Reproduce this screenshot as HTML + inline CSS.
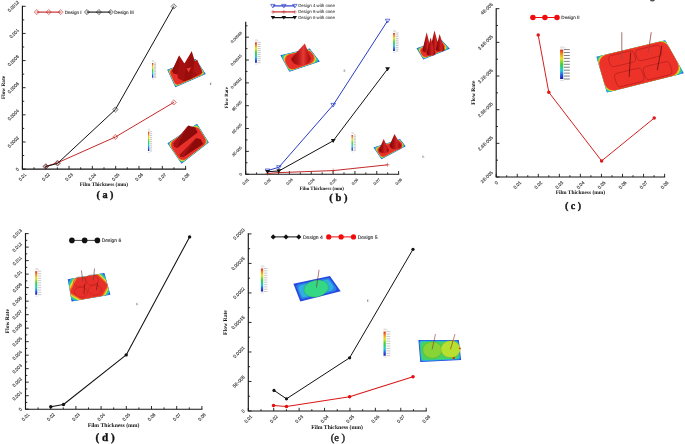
<!DOCTYPE html><html><head><meta charset="utf-8"><style>html,body{margin:0;padding:0;background:#fff;overflow:hidden;width:685px;height:444px;}svg{display:block;filter:blur(0.35px)}text{text-rendering:geometricPrecision}</style></head><body>
<svg width="685" height="444" viewBox="0 0 685 444">
<defs>
<linearGradient id="cb" x1="0" y1="0" x2="0" y2="1">
<stop offset="0" stop-color="#d42a1e"/><stop offset="0.14" stop-color="#f08a1e"/><stop offset="0.3" stop-color="#e8e020"/>
<stop offset="0.5" stop-color="#3ccf3c"/><stop offset="0.72" stop-color="#22c8d8"/><stop offset="0.86" stop-color="#2a5ae8"/><stop offset="1" stop-color="#1a1aa8"/>
</linearGradient>
<linearGradient id="cone" x1="0" y1="0" x2="1" y2="0">
<stop offset="0" stop-color="#a01010"/><stop offset="0.45" stop-color="#e02828"/><stop offset="0.7" stop-color="#c81818"/><stop offset="1" stop-color="#7a0a0a"/>
</linearGradient>
</defs>
<rect width="685" height="444" fill="#fff"/>
<path d="M22.4 6.3 V169.1 H185.6" stroke="#151515" stroke-width="1.15" fill="none" stroke-linecap="square"/>
<path d="M22.4 169.1 v-3.2 M45.71 169.1 v-3.2 M69.03 169.1 v-3.2 M92.34 169.1 v-3.2 M115.66 169.1 v-3.2 M138.97 169.1 v-3.2 M162.29 169.1 v-3.2 M185.6 169.1 v-3.2 M34.06 169.1 v-1.8 M57.37 169.1 v-1.8 M80.69 169.1 v-1.8 M104 169.1 v-1.8 M127.31 169.1 v-1.8 M150.63 169.1 v-1.8 M173.94 169.1 v-1.8 M22.4 169.1 h3.2 M22.4 141.97 h3.2 M22.4 114.83 h3.2 M22.4 87.7 h3.2 M22.4 60.57 h3.2 M22.4 33.43 h3.2 M22.4 6.3 h3.2 M22.4 155.53 h1.8 M22.4 128.4 h1.8 M22.4 101.27 h1.8 M22.4 74.13 h1.8 M22.4 47 h1.8 M22.4 19.87 h1.8" stroke="#151515" stroke-width="0.9" fill="none"/>
<text x="22.4" y="176.9" dy="0.36em" transform="rotate(-45 22.4 176.9)" text-anchor="middle" font-family='"Liberation Sans", sans-serif' font-size="4.5" fill="#2a2a2a" stroke="#2a2a2a" stroke-width="0.1">0.01</text>
<text x="45.71" y="176.9" dy="0.36em" transform="rotate(-45 45.71 176.9)" text-anchor="middle" font-family='"Liberation Sans", sans-serif' font-size="4.5" fill="#2a2a2a" stroke="#2a2a2a" stroke-width="0.1">0.02</text>
<text x="69.03" y="176.9" dy="0.36em" transform="rotate(-45 69.03 176.9)" text-anchor="middle" font-family='"Liberation Sans", sans-serif' font-size="4.5" fill="#2a2a2a" stroke="#2a2a2a" stroke-width="0.1">0.03</text>
<text x="92.34" y="176.9" dy="0.36em" transform="rotate(-45 92.34 176.9)" text-anchor="middle" font-family='"Liberation Sans", sans-serif' font-size="4.5" fill="#2a2a2a" stroke="#2a2a2a" stroke-width="0.1">0.04</text>
<text x="115.66" y="176.9" dy="0.36em" transform="rotate(-45 115.66 176.9)" text-anchor="middle" font-family='"Liberation Sans", sans-serif' font-size="4.5" fill="#2a2a2a" stroke="#2a2a2a" stroke-width="0.1">0.05</text>
<text x="138.97" y="176.9" dy="0.36em" transform="rotate(-45 138.97 176.9)" text-anchor="middle" font-family='"Liberation Sans", sans-serif' font-size="4.5" fill="#2a2a2a" stroke="#2a2a2a" stroke-width="0.1">0.06</text>
<text x="162.29" y="176.9" dy="0.36em" transform="rotate(-45 162.29 176.9)" text-anchor="middle" font-family='"Liberation Sans", sans-serif' font-size="4.5" fill="#2a2a2a" stroke="#2a2a2a" stroke-width="0.1">0.07</text>
<text x="185.6" y="176.9" dy="0.36em" transform="rotate(-45 185.6 176.9)" text-anchor="middle" font-family='"Liberation Sans", sans-serif' font-size="4.5" fill="#2a2a2a" stroke="#2a2a2a" stroke-width="0.1">0.08</text>
<text x="17.22" y="169.1" dy="0.36em" transform="rotate(-45 17.22 169.1)" text-anchor="middle" font-family='"Liberation Sans", sans-serif' font-size="4.5" fill="#2a2a2a" stroke="#2a2a2a" stroke-width="0.1">0</text>
<text x="13.23" y="141.97" dy="0.36em" transform="rotate(-45 13.23 141.97)" text-anchor="middle" font-family='"Liberation Sans", sans-serif' font-size="4.5" fill="#2a2a2a" stroke="#2a2a2a" stroke-width="0.1">0.0002</text>
<text x="13.23" y="114.83" dy="0.36em" transform="rotate(-45 13.23 114.83)" text-anchor="middle" font-family='"Liberation Sans", sans-serif' font-size="4.5" fill="#2a2a2a" stroke="#2a2a2a" stroke-width="0.1">0.0004</text>
<text x="13.23" y="87.7" dy="0.36em" transform="rotate(-45 13.23 87.7)" text-anchor="middle" font-family='"Liberation Sans", sans-serif' font-size="4.5" fill="#2a2a2a" stroke="#2a2a2a" stroke-width="0.1">0.0006</text>
<text x="13.23" y="60.57" dy="0.36em" transform="rotate(-45 13.23 60.57)" text-anchor="middle" font-family='"Liberation Sans", sans-serif' font-size="4.5" fill="#2a2a2a" stroke="#2a2a2a" stroke-width="0.1">0.0008</text>
<text x="14.12" y="33.43" dy="0.36em" transform="rotate(-45 14.12 33.43)" text-anchor="middle" font-family='"Liberation Sans", sans-serif' font-size="4.5" fill="#2a2a2a" stroke="#2a2a2a" stroke-width="0.1">0.001</text>
<text x="13.23" y="6.3" dy="0.36em" transform="rotate(-45 13.23 6.3)" text-anchor="middle" font-family='"Liberation Sans", sans-serif' font-size="4.5" fill="#2a2a2a" stroke="#2a2a2a" stroke-width="0.1">0.0012</text>
<path d="M45.8 166.3 L57.5 162.8 L115.4 137 L173.8 102.4" stroke="#c42a2a" stroke-width="1.0" fill="none" stroke-linejoin="round"/>
<path d="M45.8 166.6 L57.5 163.4 L115.4 109.5 L173.8 6.4" stroke="#111" stroke-width="1.0" fill="none" stroke-linejoin="round"/>
<path d="M43.2 166.3 L45.8 163.7 L48.4 166.3 L45.8 168.9 Z" fill="none" stroke="#c42a2a" stroke-width="0.7" stroke-opacity="0.8"/>
<circle cx="45.8" cy="166.3" r="1.3" fill="none" stroke="#c42a2a" stroke-width="0.35" stroke-opacity="0.5"/>
<path d="M54.9 162.8 L57.5 160.2 L60.1 162.8 L57.5 165.4 Z" fill="none" stroke="#c42a2a" stroke-width="0.7" stroke-opacity="0.8"/>
<circle cx="57.5" cy="162.8" r="1.3" fill="none" stroke="#c42a2a" stroke-width="0.35" stroke-opacity="0.5"/>
<path d="M112.8 137 L115.4 134.4 L118 137 L115.4 139.6 Z" fill="none" stroke="#c42a2a" stroke-width="0.7" stroke-opacity="0.8"/>
<circle cx="115.4" cy="137" r="1.3" fill="none" stroke="#c42a2a" stroke-width="0.35" stroke-opacity="0.5"/>
<path d="M171.2 102.4 L173.8 99.8 L176.4 102.4 L173.8 105 Z" fill="none" stroke="#c42a2a" stroke-width="0.7" stroke-opacity="0.8"/>
<circle cx="173.8" cy="102.4" r="1.3" fill="none" stroke="#c42a2a" stroke-width="0.35" stroke-opacity="0.5"/>
<path d="M43.1 166.6 L45.8 163.9 L48.5 166.6 L45.8 169.3 Z" fill="none" stroke="#222" stroke-width="0.7" stroke-opacity="0.8"/>
<circle cx="45.8" cy="166.6" r="1.35" fill="none" stroke="#222" stroke-width="0.35" stroke-opacity="0.5"/>
<path d="M54.8 163.4 L57.5 160.7 L60.2 163.4 L57.5 166.1 Z" fill="none" stroke="#222" stroke-width="0.7" stroke-opacity="0.8"/>
<circle cx="57.5" cy="163.4" r="1.35" fill="none" stroke="#222" stroke-width="0.35" stroke-opacity="0.5"/>
<path d="M112.7 109.5 L115.4 106.8 L118.1 109.5 L115.4 112.2 Z" fill="none" stroke="#222" stroke-width="0.7" stroke-opacity="0.8"/>
<circle cx="115.4" cy="109.5" r="1.35" fill="none" stroke="#222" stroke-width="0.35" stroke-opacity="0.5"/>
<path d="M171.1 6.4 L173.8 3.7 L176.5 6.4 L173.8 9.1 Z" fill="none" stroke="#222" stroke-width="0.7" stroke-opacity="0.8"/>
<circle cx="173.8" cy="6.4" r="1.35" fill="none" stroke="#222" stroke-width="0.35" stroke-opacity="0.5"/>
<path d="M36.8 12.1 H60.6" stroke="#c42a2a" stroke-width="1.15"/>
<path d="M34.2 12.1 L36.8 9.5 L39.4 12.1 L36.8 14.7 Z" fill="none" stroke="#c42a2a" stroke-width="0.7" stroke-opacity="0.8"/>
<circle cx="36.8" cy="12.1" r="1.3" fill="none" stroke="#c42a2a" stroke-width="0.35" stroke-opacity="0.5"/>
<path d="M46.1 12.1 L48.7 9.5 L51.3 12.1 L48.7 14.7 Z" fill="none" stroke="#c42a2a" stroke-width="0.7" stroke-opacity="0.8"/>
<circle cx="48.7" cy="12.1" r="1.3" fill="none" stroke="#c42a2a" stroke-width="0.35" stroke-opacity="0.5"/>
<path d="M58 12.1 L60.6 9.5 L63.2 12.1 L60.6 14.7 Z" fill="none" stroke="#c42a2a" stroke-width="0.7" stroke-opacity="0.8"/>
<circle cx="60.6" cy="12.1" r="1.3" fill="none" stroke="#c42a2a" stroke-width="0.35" stroke-opacity="0.5"/>
<text x="64.7" y="13.77" font-family='"Liberation Sans", sans-serif' font-size="4.63" fill="#333" stroke="#333" stroke-width="0.12">Design I</text>
<path d="M87 12.1 H110.8" stroke="#111" stroke-width="1.1"/>
<path d="M84.4 12.1 L87 9.5 L89.6 12.1 L87 14.7 Z" fill="none" stroke="#111" stroke-width="0.7" stroke-opacity="0.8"/>
<circle cx="87" cy="12.1" r="1.3" fill="none" stroke="#111" stroke-width="0.35" stroke-opacity="0.5"/>
<path d="M96.3 12.1 L98.9 9.5 L101.5 12.1 L98.9 14.7 Z" fill="none" stroke="#111" stroke-width="0.7" stroke-opacity="0.8"/>
<circle cx="98.9" cy="12.1" r="1.3" fill="none" stroke="#111" stroke-width="0.35" stroke-opacity="0.5"/>
<path d="M108.2 12.1 L110.8 9.5 L113.4 12.1 L110.8 14.7 Z" fill="none" stroke="#111" stroke-width="0.7" stroke-opacity="0.8"/>
<circle cx="110.8" cy="12.1" r="1.3" fill="none" stroke="#111" stroke-width="0.35" stroke-opacity="0.5"/>
<text x="114.3" y="13.76" font-family='"Liberation Sans", sans-serif' font-size="4.6" fill="#333" stroke="#333" stroke-width="0.12">Design III</text>
<text x="5.1" y="87.5" transform="rotate(-90 5.1 87.5)" text-anchor="middle" font-family='"Liberation Serif", serif' font-weight="bold" font-size="5.32" fill="#111">Flow Rate</text>
<text x="103.9" y="185.9" text-anchor="middle" font-family='"Liberation Serif", serif' font-weight="bold" font-size="5.3" fill="#111">Film Thickness (mm)</text>
<text x="105" y="197.7" text-anchor="middle" font-family='"Liberation Serif", serif' font-weight="bold" font-size="10.2" fill="#111" stroke="#111" stroke-width="0.35" xml:space="preserve">( a )</text>
<path d="M245.7 22.2 V174.2 H398.6" stroke="#151515" stroke-width="1.15" fill="none" stroke-linecap="square"/>
<path d="M245.7 174.2 v-3.2 M267.54 174.2 v-3.2 M289.39 174.2 v-3.2 M311.23 174.2 v-3.2 M333.07 174.2 v-3.2 M354.91 174.2 v-3.2 M376.76 174.2 v-3.2 M398.6 174.2 v-3.2 M256.62 174.2 v-1.8 M278.46 174.2 v-1.8 M300.31 174.2 v-1.8 M322.15 174.2 v-1.8 M343.99 174.2 v-1.8 M365.84 174.2 v-1.8 M387.68 174.2 v-1.8 M245.7 174.2 h3.2 M245.7 151.37 h3.2 M245.7 128.53 h3.2 M245.7 105.7 h3.2 M245.7 82.87 h3.2 M245.7 60.03 h3.2 M245.7 37.2 h3.2 M245.7 162.78 h1.8 M245.7 139.95 h1.8 M245.7 117.12 h1.8 M245.7 94.28 h1.8 M245.7 71.45 h1.8 M245.7 48.62 h1.8 M245.7 25.78 h1.8" stroke="#151515" stroke-width="0.9" fill="none"/>
<text x="245.7" y="181.62" dy="0.36em" transform="rotate(-45 245.7 181.62)" text-anchor="middle" font-family='"Liberation Sans", sans-serif' font-size="3.95" fill="#2a2a2a" stroke="#2a2a2a" stroke-width="0.1">0.01</text>
<text x="267.54" y="181.62" dy="0.36em" transform="rotate(-45 267.54 181.62)" text-anchor="middle" font-family='"Liberation Sans", sans-serif' font-size="3.95" fill="#2a2a2a" stroke="#2a2a2a" stroke-width="0.1">0.02</text>
<text x="289.39" y="181.62" dy="0.36em" transform="rotate(-45 289.39 181.62)" text-anchor="middle" font-family='"Liberation Sans", sans-serif' font-size="3.95" fill="#2a2a2a" stroke="#2a2a2a" stroke-width="0.1">0.03</text>
<text x="311.23" y="181.62" dy="0.36em" transform="rotate(-45 311.23 181.62)" text-anchor="middle" font-family='"Liberation Sans", sans-serif' font-size="3.95" fill="#2a2a2a" stroke="#2a2a2a" stroke-width="0.1">0.04</text>
<text x="333.07" y="181.62" dy="0.36em" transform="rotate(-45 333.07 181.62)" text-anchor="middle" font-family='"Liberation Sans", sans-serif' font-size="3.95" fill="#2a2a2a" stroke="#2a2a2a" stroke-width="0.1">0.05</text>
<text x="354.91" y="181.62" dy="0.36em" transform="rotate(-45 354.91 181.62)" text-anchor="middle" font-family='"Liberation Sans", sans-serif' font-size="3.95" fill="#2a2a2a" stroke="#2a2a2a" stroke-width="0.1">0.06</text>
<text x="376.76" y="181.62" dy="0.36em" transform="rotate(-45 376.76 181.62)" text-anchor="middle" font-family='"Liberation Sans", sans-serif' font-size="3.95" fill="#2a2a2a" stroke="#2a2a2a" stroke-width="0.1">0.07</text>
<text x="398.6" y="181.62" dy="0.36em" transform="rotate(-45 398.6 181.62)" text-anchor="middle" font-family='"Liberation Sans", sans-serif' font-size="3.95" fill="#2a2a2a" stroke="#2a2a2a" stroke-width="0.1">0.08</text>
<text x="240.62" y="174.2" dy="0.36em" transform="rotate(-45 240.62 174.2)" text-anchor="middle" font-family='"Liberation Sans", sans-serif' font-size="3.95" fill="#2a2a2a" stroke="#2a2a2a" stroke-width="0.1">0</text>
<text x="236.9" y="151.37" dy="0.36em" transform="rotate(-45 236.9 151.37)" text-anchor="middle" font-family='"Liberation Sans", sans-serif' font-size="3.95" fill="#2a2a2a" stroke="#2a2a2a" stroke-width="0.1">3E-005</text>
<text x="236.9" y="128.53" dy="0.36em" transform="rotate(-45 236.9 128.53)" text-anchor="middle" font-family='"Liberation Sans", sans-serif' font-size="3.95" fill="#2a2a2a" stroke="#2a2a2a" stroke-width="0.1">6E-005</text>
<text x="236.9" y="105.7" dy="0.36em" transform="rotate(-45 236.9 105.7)" text-anchor="middle" font-family='"Liberation Sans", sans-serif' font-size="3.95" fill="#2a2a2a" stroke="#2a2a2a" stroke-width="0.1">9E-005</text>
<text x="236.35" y="82.87" dy="0.36em" transform="rotate(-45 236.35 82.87)" text-anchor="middle" font-family='"Liberation Sans", sans-serif' font-size="3.95" fill="#2a2a2a" stroke="#2a2a2a" stroke-width="0.1">0.00012</text>
<text x="236.35" y="60.03" dy="0.36em" transform="rotate(-45 236.35 60.03)" text-anchor="middle" font-family='"Liberation Sans", sans-serif' font-size="3.95" fill="#2a2a2a" stroke="#2a2a2a" stroke-width="0.1">0.00015</text>
<text x="236.35" y="37.2" dy="0.36em" transform="rotate(-45 236.35 37.2)" text-anchor="middle" font-family='"Liberation Sans", sans-serif' font-size="3.95" fill="#2a2a2a" stroke="#2a2a2a" stroke-width="0.1">0.00018</text>
<path d="M267.5 173.5 L278.8 172.6 L333.2 170.6 L387.6 164.8" stroke="#c42a2a" stroke-width="1.0" fill="none" stroke-linejoin="round"/>
<path d="M267.5 170.6 L278.8 167.3 L333.2 105 L387.6 20.8" stroke="#2a3cc8" stroke-width="1.0" fill="none" stroke-linejoin="round"/>
<path d="M267.5 171.7 L278.8 171 L333.2 140.8 L387.6 69" stroke="#111" stroke-width="1.0" fill="none" stroke-linejoin="round"/>
<path d="M267.5 171.5 V175.5 M265.5 173.5 H269.5" stroke="#c42a2a" stroke-width="0.48999999999999994"/>
<path d="M278.8 170.6 V174.6 M276.8 172.6 H280.8" stroke="#c42a2a" stroke-width="0.48999999999999994"/>
<path d="M333.2 168.6 V172.6 M331.2 170.6 H335.2" stroke="#c42a2a" stroke-width="0.48999999999999994"/>
<path d="M387.6 162.8 V166.8 M385.6 164.8 H389.6" stroke="#c42a2a" stroke-width="0.48999999999999994"/>
<path d="M265.2 168.99 H269.8 L267.5 172.67 Z" fill="none" stroke="#2a3cc8" stroke-width="0.7"/>
<path d="M276.5 165.69 H281.1 L278.8 169.37 Z" fill="none" stroke="#2a3cc8" stroke-width="0.7"/>
<path d="M330.9 103.39 H335.5 L333.2 107.07 Z" fill="none" stroke="#2a3cc8" stroke-width="0.7"/>
<path d="M385.3 19.19 H389.9 L387.6 22.87 Z" fill="none" stroke="#2a3cc8" stroke-width="0.7"/>
<path d="M265.1 170.02 H269.9 L267.5 173.86 Z" fill="#111"/>
<path d="M276.4 169.32 H281.2 L278.8 173.16 Z" fill="#111"/>
<path d="M330.8 139.12 H335.6 L333.2 142.96 Z" fill="#111"/>
<path d="M385.2 67.32 H390 L387.6 71.16 Z" fill="#111"/>
<path d="M272.9 5.9 H294.8" stroke="#2a3cc8" stroke-width="1.2"/>
<path d="M270.7 4.36 H275.1 L272.9 7.88 Z" fill="none" stroke="#2a3cc8" stroke-width="0.7"/>
<path d="M281.65 4.36 H286.05 L283.85 7.88 Z" fill="none" stroke="#2a3cc8" stroke-width="0.7"/>
<path d="M292.6 4.36 H297 L294.8 7.88 Z" fill="none" stroke="#2a3cc8" stroke-width="0.7"/>
<text x="298.2" y="7.47" font-family='"Liberation Sans", sans-serif' font-size="4.35" fill="#555" stroke="#555" stroke-width="0.12">Design 4 with cone</text>
<path d="M272.9 11.9 H294.8" stroke="#c42a2a" stroke-width="1.2"/>
<path d="M272.9 9.9 V13.9 M270.9 11.9 H274.9" stroke="#c42a2a" stroke-width="0.48999999999999994"/>
<path d="M283.85 9.9 V13.9 M281.85 11.9 H285.85" stroke="#c42a2a" stroke-width="0.48999999999999994"/>
<path d="M294.8 9.9 V13.9 M292.8 11.9 H296.8" stroke="#c42a2a" stroke-width="0.48999999999999994"/>
<text x="298.2" y="13.47" font-family='"Liberation Sans", sans-serif' font-size="4.35" fill="#555" stroke="#555" stroke-width="0.12">Design 5 with cone</text>
<path d="M272.9 17.6 H294.8" stroke="#111" stroke-width="1.2"/>
<path d="M270.7 16.06 H275.1 L272.9 19.58 Z" fill="#111"/>
<path d="M281.65 16.06 H286.05 L283.85 19.58 Z" fill="#111"/>
<path d="M292.6 16.06 H297 L294.8 19.58 Z" fill="#111"/>
<text x="298.2" y="19.17" font-family='"Liberation Sans", sans-serif' font-size="4.35" fill="#555" stroke="#555" stroke-width="0.12">Design 6 with cone</text>
<text x="228.1" y="97.7" transform="rotate(-90 228.1 97.7)" text-anchor="middle" font-family='"Liberation Serif", serif' font-weight="bold" font-size="4.86" fill="#111">Flow Rate</text>
<text x="321.7" y="189.6" text-anchor="middle" font-family='"Liberation Serif", serif' font-weight="bold" font-size="4.9" fill="#111">Film Thickness (mm)</text>
<text x="338.4" y="201" text-anchor="middle" font-family='"Liberation Serif", serif' font-weight="bold" font-size="10.5" fill="#111" stroke="#111" stroke-width="0.35" xml:space="preserve">( b )</text>
<path d="M496.2 8.7 V177 H664.6" stroke="#151515" stroke-width="1.15" fill="none" stroke-linecap="square"/>
<path d="M496.2 177 v-3.2 M517.25 177 v-3.2 M538.3 177 v-3.2 M559.35 177 v-3.2 M580.4 177 v-3.2 M601.45 177 v-3.2 M622.5 177 v-3.2 M643.55 177 v-3.2 M664.6 177 v-3.2 M506.72 177 v-1.8 M527.77 177 v-1.8 M548.83 177 v-1.8 M569.88 177 v-1.8 M590.92 177 v-1.8 M611.98 177 v-1.8 M633.03 177 v-1.8 M654.08 177 v-1.8 M496.2 177 h3.2 M496.2 143.34 h3.2 M496.2 109.68 h3.2 M496.2 76.02 h3.2 M496.2 42.36 h3.2 M496.2 8.7 h3.2 M496.2 160.17 h1.8 M496.2 126.51 h1.8 M496.2 92.85 h1.8 M496.2 59.19 h1.8 M496.2 25.53 h1.8" stroke="#151515" stroke-width="0.9" fill="none"/>
<text x="496.2" y="182.6" dy="0.36em" transform="rotate(-45 496.2 182.6)" text-anchor="middle" font-family='"Liberation Sans", sans-serif' font-size="4.6" fill="#2a2a2a" stroke="#2a2a2a" stroke-width="0.1">0</text>
<text x="517.25" y="184.87" dy="0.36em" transform="rotate(-45 517.25 184.87)" text-anchor="middle" font-family='"Liberation Sans", sans-serif' font-size="4.6" fill="#2a2a2a" stroke="#2a2a2a" stroke-width="0.1">0.01</text>
<text x="538.3" y="184.87" dy="0.36em" transform="rotate(-45 538.3 184.87)" text-anchor="middle" font-family='"Liberation Sans", sans-serif' font-size="4.6" fill="#2a2a2a" stroke="#2a2a2a" stroke-width="0.1">0.02</text>
<text x="559.35" y="184.87" dy="0.36em" transform="rotate(-45 559.35 184.87)" text-anchor="middle" font-family='"Liberation Sans", sans-serif' font-size="4.6" fill="#2a2a2a" stroke="#2a2a2a" stroke-width="0.1">0.03</text>
<text x="580.4" y="184.87" dy="0.36em" transform="rotate(-45 580.4 184.87)" text-anchor="middle" font-family='"Liberation Sans", sans-serif' font-size="4.6" fill="#2a2a2a" stroke="#2a2a2a" stroke-width="0.1">0.04</text>
<text x="601.45" y="184.87" dy="0.36em" transform="rotate(-45 601.45 184.87)" text-anchor="middle" font-family='"Liberation Sans", sans-serif' font-size="4.6" fill="#2a2a2a" stroke="#2a2a2a" stroke-width="0.1">0.05</text>
<text x="622.5" y="184.87" dy="0.36em" transform="rotate(-45 622.5 184.87)" text-anchor="middle" font-family='"Liberation Sans", sans-serif' font-size="4.6" fill="#2a2a2a" stroke="#2a2a2a" stroke-width="0.1">0.06</text>
<text x="643.55" y="184.87" dy="0.36em" transform="rotate(-45 643.55 184.87)" text-anchor="middle" font-family='"Liberation Sans", sans-serif' font-size="4.6" fill="#2a2a2a" stroke="#2a2a2a" stroke-width="0.1">0.07</text>
<text x="664.6" y="184.87" dy="0.36em" transform="rotate(-45 664.6 184.87)" text-anchor="middle" font-family='"Liberation Sans", sans-serif' font-size="4.6" fill="#2a2a2a" stroke="#2a2a2a" stroke-width="0.1">0.08</text>
<text x="486.66" y="177" dy="0.36em" transform="rotate(-45 486.66 177)" text-anchor="middle" font-family='"Liberation Sans", sans-serif' font-size="4.6" fill="#2a2a2a" stroke="#2a2a2a" stroke-width="0.1">2E-005</text>
<text x="485.3" y="143.34" dy="0.36em" transform="rotate(-45 485.3 143.34)" text-anchor="middle" font-family='"Liberation Sans", sans-serif' font-size="4.6" fill="#2a2a2a" stroke="#2a2a2a" stroke-width="0.1">2.4E-005</text>
<text x="485.3" y="109.68" dy="0.36em" transform="rotate(-45 485.3 109.68)" text-anchor="middle" font-family='"Liberation Sans", sans-serif' font-size="4.6" fill="#2a2a2a" stroke="#2a2a2a" stroke-width="0.1">2.8E-005</text>
<text x="485.3" y="76.02" dy="0.36em" transform="rotate(-45 485.3 76.02)" text-anchor="middle" font-family='"Liberation Sans", sans-serif' font-size="4.6" fill="#2a2a2a" stroke="#2a2a2a" stroke-width="0.1">3.2E-005</text>
<text x="485.3" y="42.36" dy="0.36em" transform="rotate(-45 485.3 42.36)" text-anchor="middle" font-family='"Liberation Sans", sans-serif' font-size="4.6" fill="#2a2a2a" stroke="#2a2a2a" stroke-width="0.1">3.6E-005</text>
<text x="486.66" y="8.7" dy="0.36em" transform="rotate(-45 486.66 8.7)" text-anchor="middle" font-family='"Liberation Sans", sans-serif' font-size="4.6" fill="#2a2a2a" stroke="#2a2a2a" stroke-width="0.1">4E-005</text>
<path d="M538.2 35 L548.8 92.3 L601.6 160.9 L654.2 118.1" stroke="#d42020" stroke-width="1.0" fill="none" stroke-linejoin="round"/>
<circle cx="538.2" cy="35" r="1.75" fill="#e01a1a"/>
<circle cx="548.8" cy="92.3" r="1.75" fill="#e01a1a"/>
<circle cx="601.6" cy="160.9" r="1.75" fill="#e01a1a"/>
<circle cx="654.2" cy="118.1" r="1.75" fill="#e01a1a"/>
<path d="M532.9 17.5 H557" stroke="#f00c0c" stroke-width="1.0"/>
<circle cx="532.9" cy="17.5" r="2.75" fill="#f00c0c"/>
<circle cx="544.95" cy="17.5" r="2.75" fill="#f00c0c"/>
<circle cx="557" cy="17.5" r="2.75" fill="#f00c0c"/>
<text x="561.3" y="19.17" font-family='"Liberation Sans", sans-serif' font-size="4.65" fill="#333" stroke="#333" stroke-width="0.12">Design II</text>
<text x="475.2" y="92.7" transform="rotate(-90 475.2 92.7)" text-anchor="middle" font-family='"Liberation Serif", serif' font-weight="bold" font-size="5.57" fill="#111">Flow Rate</text>
<text x="580.4" y="194.2" text-anchor="middle" font-family='"Liberation Serif", serif' font-weight="bold" font-size="5.44" fill="#111">Film Thickness (mm)</text>
<text x="573.1" y="208.6" text-anchor="middle" font-family='"Liberation Serif", serif' font-weight="bold" font-size="10.1" fill="#111" stroke="#111" stroke-width="0.35" xml:space="preserve">( c )</text>
<path d="M25.5 233.6 V409.2 H201.9" stroke="#151515" stroke-width="1.15" fill="none" stroke-linecap="square"/>
<path d="M25.5 409.2 v-3.2 M50.7 409.2 v-3.2 M75.9 409.2 v-3.2 M101.1 409.2 v-3.2 M126.3 409.2 v-3.2 M151.5 409.2 v-3.2 M176.7 409.2 v-3.2 M201.9 409.2 v-3.2 M38.1 409.2 v-1.8 M63.3 409.2 v-1.8 M88.5 409.2 v-1.8 M113.7 409.2 v-1.8 M138.9 409.2 v-1.8 M164.1 409.2 v-1.8 M189.3 409.2 v-1.8 M25.5 409.2 h3.2 M25.5 395.69 h3.2 M25.5 382.18 h3.2 M25.5 368.68 h3.2 M25.5 355.17 h3.2 M25.5 341.66 h3.2 M25.5 328.15 h3.2 M25.5 314.65 h3.2 M25.5 301.14 h3.2 M25.5 287.63 h3.2 M25.5 274.12 h3.2 M25.5 260.62 h3.2 M25.5 247.11 h3.2 M25.5 233.6 h3.2 M25.5 402.45 h1.8 M25.5 388.94 h1.8 M25.5 375.43 h1.8 M25.5 361.92 h1.8 M25.5 348.42 h1.8 M25.5 334.91 h1.8 M25.5 321.4 h1.8 M25.5 307.89 h1.8 M25.5 294.38 h1.8 M25.5 280.88 h1.8 M25.5 267.37 h1.8 M25.5 253.86 h1.8 M25.5 240.35 h1.8" stroke="#151515" stroke-width="0.9" fill="none"/>
<text x="25.5" y="417" dy="0.36em" transform="rotate(-45 25.5 417)" text-anchor="middle" font-family='"Liberation Sans", sans-serif' font-size="4.5" fill="#2a2a2a" stroke="#2a2a2a" stroke-width="0.1">0.01</text>
<text x="50.7" y="417" dy="0.36em" transform="rotate(-45 50.7 417)" text-anchor="middle" font-family='"Liberation Sans", sans-serif' font-size="4.5" fill="#2a2a2a" stroke="#2a2a2a" stroke-width="0.1">0.02</text>
<text x="75.9" y="417" dy="0.36em" transform="rotate(-45 75.9 417)" text-anchor="middle" font-family='"Liberation Sans", sans-serif' font-size="4.5" fill="#2a2a2a" stroke="#2a2a2a" stroke-width="0.1">0.03</text>
<text x="101.1" y="417" dy="0.36em" transform="rotate(-45 101.1 417)" text-anchor="middle" font-family='"Liberation Sans", sans-serif' font-size="4.5" fill="#2a2a2a" stroke="#2a2a2a" stroke-width="0.1">0.04</text>
<text x="126.3" y="417" dy="0.36em" transform="rotate(-45 126.3 417)" text-anchor="middle" font-family='"Liberation Sans", sans-serif' font-size="4.5" fill="#2a2a2a" stroke="#2a2a2a" stroke-width="0.1">0.05</text>
<text x="151.5" y="417" dy="0.36em" transform="rotate(-45 151.5 417)" text-anchor="middle" font-family='"Liberation Sans", sans-serif' font-size="4.5" fill="#2a2a2a" stroke="#2a2a2a" stroke-width="0.1">0.06</text>
<text x="176.7" y="417" dy="0.36em" transform="rotate(-45 176.7 417)" text-anchor="middle" font-family='"Liberation Sans", sans-serif' font-size="4.5" fill="#2a2a2a" stroke="#2a2a2a" stroke-width="0.1">0.07</text>
<text x="201.9" y="417" dy="0.36em" transform="rotate(-45 201.9 417)" text-anchor="middle" font-family='"Liberation Sans", sans-serif' font-size="4.5" fill="#2a2a2a" stroke="#2a2a2a" stroke-width="0.1">0.08</text>
<text x="20.32" y="409.2" dy="0.36em" transform="rotate(-45 20.32 409.2)" text-anchor="middle" font-family='"Liberation Sans", sans-serif' font-size="4.5" fill="#2a2a2a" stroke="#2a2a2a" stroke-width="0.1">0</text>
<text x="17.22" y="395.69" dy="0.36em" transform="rotate(-45 17.22 395.69)" text-anchor="middle" font-family='"Liberation Sans", sans-serif' font-size="4.5" fill="#2a2a2a" stroke="#2a2a2a" stroke-width="0.1">0.001</text>
<text x="17.22" y="382.18" dy="0.36em" transform="rotate(-45 17.22 382.18)" text-anchor="middle" font-family='"Liberation Sans", sans-serif' font-size="4.5" fill="#2a2a2a" stroke="#2a2a2a" stroke-width="0.1">0.002</text>
<text x="17.22" y="368.68" dy="0.36em" transform="rotate(-45 17.22 368.68)" text-anchor="middle" font-family='"Liberation Sans", sans-serif' font-size="4.5" fill="#2a2a2a" stroke="#2a2a2a" stroke-width="0.1">0.003</text>
<text x="17.22" y="355.17" dy="0.36em" transform="rotate(-45 17.22 355.17)" text-anchor="middle" font-family='"Liberation Sans", sans-serif' font-size="4.5" fill="#2a2a2a" stroke="#2a2a2a" stroke-width="0.1">0.004</text>
<text x="17.22" y="341.66" dy="0.36em" transform="rotate(-45 17.22 341.66)" text-anchor="middle" font-family='"Liberation Sans", sans-serif' font-size="4.5" fill="#2a2a2a" stroke="#2a2a2a" stroke-width="0.1">0.005</text>
<text x="17.22" y="328.15" dy="0.36em" transform="rotate(-45 17.22 328.15)" text-anchor="middle" font-family='"Liberation Sans", sans-serif' font-size="4.5" fill="#2a2a2a" stroke="#2a2a2a" stroke-width="0.1">0.006</text>
<text x="17.22" y="314.65" dy="0.36em" transform="rotate(-45 17.22 314.65)" text-anchor="middle" font-family='"Liberation Sans", sans-serif' font-size="4.5" fill="#2a2a2a" stroke="#2a2a2a" stroke-width="0.1">0.007</text>
<text x="17.22" y="301.14" dy="0.36em" transform="rotate(-45 17.22 301.14)" text-anchor="middle" font-family='"Liberation Sans", sans-serif' font-size="4.5" fill="#2a2a2a" stroke="#2a2a2a" stroke-width="0.1">0.008</text>
<text x="17.22" y="287.63" dy="0.36em" transform="rotate(-45 17.22 287.63)" text-anchor="middle" font-family='"Liberation Sans", sans-serif' font-size="4.5" fill="#2a2a2a" stroke="#2a2a2a" stroke-width="0.1">0.009</text>
<text x="18.1" y="274.12" dy="0.36em" transform="rotate(-45 18.1 274.12)" text-anchor="middle" font-family='"Liberation Sans", sans-serif' font-size="4.5" fill="#2a2a2a" stroke="#2a2a2a" stroke-width="0.1">0.01</text>
<text x="17.34" y="260.62" dy="0.36em" transform="rotate(-45 17.34 260.62)" text-anchor="middle" font-family='"Liberation Sans", sans-serif' font-size="4.5" fill="#2a2a2a" stroke="#2a2a2a" stroke-width="0.1">0.011</text>
<text x="17.22" y="247.11" dy="0.36em" transform="rotate(-45 17.22 247.11)" text-anchor="middle" font-family='"Liberation Sans", sans-serif' font-size="4.5" fill="#2a2a2a" stroke="#2a2a2a" stroke-width="0.1">0.012</text>
<text x="17.22" y="233.6" dy="0.36em" transform="rotate(-45 17.22 233.6)" text-anchor="middle" font-family='"Liberation Sans", sans-serif' font-size="4.5" fill="#2a2a2a" stroke="#2a2a2a" stroke-width="0.1">0.013</text>
<path d="M50.8 406.7 L63.5 404.5 L126.2 354.9 L189.6 236.9" stroke="#111" stroke-width="1.05" fill="none" stroke-linejoin="round"/>
<circle cx="50.8" cy="406.7" r="1.7" fill="#111"/>
<circle cx="63.5" cy="404.5" r="1.7" fill="#111"/>
<circle cx="126.2" cy="354.9" r="1.7" fill="#111"/>
<circle cx="189.6" cy="236.9" r="1.7" fill="#111"/>
<path d="M71.9 240.4 H97.4" stroke="#111" stroke-width="0.8"/>
<circle cx="71.9" cy="240.4" r="2.8" fill="#111"/>
<circle cx="84.65" cy="240.4" r="2.8" fill="#111"/>
<circle cx="97.4" cy="240.4" r="2.8" fill="#111"/>
<text x="101.7" y="242.18" font-family='"Liberation Sans", sans-serif' font-size="4.95" fill="#333" stroke="#333" stroke-width="0.12">Design 6</text>
<text x="9" y="321.2" transform="rotate(-90 9 321.2)" text-anchor="middle" font-family='"Liberation Serif", serif' font-weight="bold" font-size="5.55" fill="#111">Flow Rate</text>
<text x="113.6" y="427.3" text-anchor="middle" font-family='"Liberation Serif", serif' font-weight="bold" font-size="5.7" fill="#111">Film Thickness (mm)</text>
<text x="105.1" y="441.3" text-anchor="middle" font-family='"Liberation Serif", serif' font-weight="bold" font-size="11.2" fill="#111" stroke="#111" stroke-width="0.35" xml:space="preserve">( d )</text>
<path d="M248.3 233.9 V411 H426.2" stroke="#151515" stroke-width="1.15" fill="none" stroke-linecap="square"/>
<path d="M248.3 411 v-3.2 M273.71 411 v-3.2 M299.13 411 v-3.2 M324.54 411 v-3.2 M349.96 411 v-3.2 M375.37 411 v-3.2 M400.79 411 v-3.2 M426.2 411 v-3.2 M261.01 411 v-1.8 M286.42 411 v-1.8 M311.84 411 v-1.8 M337.25 411 v-1.8 M362.66 411 v-1.8 M388.08 411 v-1.8 M413.49 411 v-1.8 M248.3 411 h3.2 M248.3 381.48 h3.2 M248.3 351.97 h3.2 M248.3 322.45 h3.2 M248.3 292.93 h3.2 M248.3 263.42 h3.2 M248.3 233.9 h3.2 M248.3 396.24 h1.8 M248.3 366.73 h1.8 M248.3 337.21 h1.8 M248.3 307.69 h1.8 M248.3 278.17 h1.8 M248.3 248.66 h1.8" stroke="#151515" stroke-width="0.9" fill="none"/>
<text x="248.3" y="418.9" dy="0.36em" transform="rotate(-45 248.3 418.9)" text-anchor="middle" font-family='"Liberation Sans", sans-serif' font-size="4.65" fill="#2a2a2a" stroke="#2a2a2a" stroke-width="0.1">0.01</text>
<text x="273.71" y="418.9" dy="0.36em" transform="rotate(-45 273.71 418.9)" text-anchor="middle" font-family='"Liberation Sans", sans-serif' font-size="4.65" fill="#2a2a2a" stroke="#2a2a2a" stroke-width="0.1">0.02</text>
<text x="299.13" y="418.9" dy="0.36em" transform="rotate(-45 299.13 418.9)" text-anchor="middle" font-family='"Liberation Sans", sans-serif' font-size="4.65" fill="#2a2a2a" stroke="#2a2a2a" stroke-width="0.1">0.03</text>
<text x="324.54" y="418.9" dy="0.36em" transform="rotate(-45 324.54 418.9)" text-anchor="middle" font-family='"Liberation Sans", sans-serif' font-size="4.65" fill="#2a2a2a" stroke="#2a2a2a" stroke-width="0.1">0.04</text>
<text x="349.96" y="418.9" dy="0.36em" transform="rotate(-45 349.96 418.9)" text-anchor="middle" font-family='"Liberation Sans", sans-serif' font-size="4.65" fill="#2a2a2a" stroke="#2a2a2a" stroke-width="0.1">0.05</text>
<text x="375.37" y="418.9" dy="0.36em" transform="rotate(-45 375.37 418.9)" text-anchor="middle" font-family='"Liberation Sans", sans-serif' font-size="4.65" fill="#2a2a2a" stroke="#2a2a2a" stroke-width="0.1">0.06</text>
<text x="400.79" y="418.9" dy="0.36em" transform="rotate(-45 400.79 418.9)" text-anchor="middle" font-family='"Liberation Sans", sans-serif' font-size="4.65" fill="#2a2a2a" stroke="#2a2a2a" stroke-width="0.1">0.07</text>
<text x="426.2" y="418.9" dy="0.36em" transform="rotate(-45 426.2 418.9)" text-anchor="middle" font-family='"Liberation Sans", sans-serif' font-size="4.65" fill="#2a2a2a" stroke="#2a2a2a" stroke-width="0.1">0.08</text>
<text x="243.09" y="411" dy="0.36em" transform="rotate(-45 243.09 411)" text-anchor="middle" font-family='"Liberation Sans", sans-serif' font-size="4.65" fill="#2a2a2a" stroke="#2a2a2a" stroke-width="0.1">0</text>
<text x="238.7" y="381.48" dy="0.36em" transform="rotate(-45 238.7 381.48)" text-anchor="middle" font-family='"Liberation Sans", sans-serif' font-size="4.65" fill="#2a2a2a" stroke="#2a2a2a" stroke-width="0.1">5E-005</text>
<text x="238.97" y="351.97" dy="0.36em" transform="rotate(-45 238.97 351.97)" text-anchor="middle" font-family='"Liberation Sans", sans-serif' font-size="4.65" fill="#2a2a2a" stroke="#2a2a2a" stroke-width="0.1">0.0001</text>
<text x="238.06" y="322.45" dy="0.36em" transform="rotate(-45 238.06 322.45)" text-anchor="middle" font-family='"Liberation Sans", sans-serif' font-size="4.65" fill="#2a2a2a" stroke="#2a2a2a" stroke-width="0.1">0.00015</text>
<text x="238.97" y="292.93" dy="0.36em" transform="rotate(-45 238.97 292.93)" text-anchor="middle" font-family='"Liberation Sans", sans-serif' font-size="4.65" fill="#2a2a2a" stroke="#2a2a2a" stroke-width="0.1">0.0002</text>
<text x="238.06" y="263.42" dy="0.36em" transform="rotate(-45 238.06 263.42)" text-anchor="middle" font-family='"Liberation Sans", sans-serif' font-size="4.65" fill="#2a2a2a" stroke="#2a2a2a" stroke-width="0.1">0.00025</text>
<text x="238.97" y="233.9" dy="0.36em" transform="rotate(-45 238.97 233.9)" text-anchor="middle" font-family='"Liberation Sans", sans-serif' font-size="4.65" fill="#2a2a2a" stroke="#2a2a2a" stroke-width="0.1">0.0003</text>
<path d="M274 390.4 L286.5 398.8 L349.6 357.8 L413 249.3" stroke="#111" stroke-width="1.0" fill="none" stroke-linejoin="round"/>
<path d="M273.5 405.6 L286.5 406.5 L349.6 396.8 L413 376.8" stroke="#d81818" stroke-width="1.05" fill="none" stroke-linejoin="round"/>
<circle cx="274" cy="390.4" r="1.6" fill="#111"/>
<circle cx="286.5" cy="398.8" r="1.6" fill="#111"/>
<circle cx="349.6" cy="357.8" r="1.6" fill="#111"/>
<circle cx="413" cy="249.3" r="1.6" fill="#111"/>
<circle cx="273.5" cy="405.6" r="1.75" fill="#e80c0c"/>
<circle cx="286.5" cy="406.5" r="1.75" fill="#e80c0c"/>
<circle cx="349.6" cy="396.8" r="1.75" fill="#e80c0c"/>
<circle cx="413" cy="376.8" r="1.75" fill="#e80c0c"/>
<path d="M273.2 236.9 H298.8" stroke="#111" stroke-width="1.0"/>
<path d="M270.6 236.9 L273.2 234.3 L275.8 236.9 L273.2 239.5 Z" fill="#111"/>
<path d="M283.4 236.9 L286 234.3 L288.6 236.9 L286 239.5 Z" fill="#111"/>
<path d="M296.2 236.9 L298.8 234.3 L301.4 236.9 L298.8 239.5 Z" fill="#111"/>
<text x="303" y="238.7" font-family='"Liberation Sans", sans-serif' font-size="5.0" fill="#333" stroke="#333" stroke-width="0.12">Design 4</text>
<path d="M328.7 236.9 H353.5" stroke="#f00c0c" stroke-width="1.0"/>
<circle cx="328.7" cy="236.9" r="2.6" fill="#f00c0c"/>
<circle cx="341.1" cy="236.9" r="2.6" fill="#f00c0c"/>
<circle cx="353.5" cy="236.9" r="2.6" fill="#f00c0c"/>
<text x="357.7" y="238.7" font-family='"Liberation Sans", sans-serif' font-size="5.0" fill="#333" stroke="#333" stroke-width="0.12">Design 5</text>
<text x="227.3" y="322.5" transform="rotate(-90 227.3 322.5)" text-anchor="middle" font-family='"Liberation Serif", serif' font-weight="bold" font-size="5.69" fill="#111">Flow Rate</text>
<text x="337" y="429.2" text-anchor="middle" font-family='"Liberation Serif", serif' font-weight="bold" font-size="5.7" fill="#111">Film Thickness (mm)</text>
<text x="337.9" y="441.3" text-anchor="middle" font-family='"Liberation Serif", serif' font-weight="normal" font-size="10.6" fill="#111" stroke="#111" stroke-width="0.35" xml:space="preserve">(e )</text>
<rect x="152" y="63" width="1.3" height="14.6" fill="url(#cb)"/>
<path d="M153.9 63 h2.21 M153.9 64.46 h2.21 M153.9 65.92 h2.21 M153.9 67.38 h2.21 M153.9 68.84 h2.21 M153.9 70.3 h2.21 M153.9 71.76 h2.21 M153.9 73.22 h2.21 M153.9 74.68 h2.21 M153.9 76.14 h2.21 M153.9 77.6 h2.21" stroke="#9a9a9a" stroke-width="0.55"/>
<path d="M152 60.4 h1.69 M152 61.4 h2.47" stroke="#c0c0c0" stroke-width="0.5"/>
<path d="M152 79 h1.69" stroke="#c0c0c0" stroke-width="0.5"/>
<polygon points="167.2,69.8 195.6,59.1 205.8,74 175.4,87.2" fill="#2a50d8" stroke="#2a50d8" stroke-width="0" stroke-linejoin="round" />
<polygon points="169.21,70.61 195.04,60.88 203.58,73.36 176.12,85.28" fill="#22b8d8" stroke="#22b8d8" stroke-width="2.24" stroke-linejoin="round" />
<polygon points="170.64,71.2 194.64,62.16 202,72.9 176.64,83.92" fill="#3cd070" stroke="#3cd070" stroke-width="3.92" stroke-linejoin="round" />
<polygon points="172.08,71.78 194.24,63.43 200.41,72.45 177.15,82.55" fill="#e8e030" stroke="#e8e030" stroke-width="5.6" stroke-linejoin="round" />
<polygon points="173.32,72.28 193.89,64.53 199.04,72.05 177.6,81.36" fill="#f07828" stroke="#f07828" stroke-width="7" stroke-linejoin="round" />
<polygon points="174.57,72.78 193.54,65.64 197.66,71.66 178.05,80.17" fill="#e8302a" stroke="#e8302a" stroke-width="8.4" stroke-linejoin="round" />
<polygon points="179.2,55.4 172.1,70.7 173.6,73.6 177.3,74.2 178.2,78.6 183.6,81.2 191.2,78.8 202.3,72.6 197.0,59.8 195.1,61.7 191.7,51.3 184.4,63.6" fill="#a60f0f"/>
<polygon points="179.2,55.4 172.1,70.7 173.6,73.6 177.3,74.2 179.0,66" fill="#960c0c"/>
<polygon points="191.7,51.3 186.0,66.5 184,80.8 183.6,81.2 191.2,78.8 193.5,62" fill="#9a0d0d"/>
<polygon points="197.0,59.8 195.1,61.7 193.5,70 197.5,75.6 202.3,72.6" fill="#b41616"/>
<polygon points="186.5,68.4 191.2,67.4 188.6,72.2" fill="#ee3c32"/>
<rect x="148" y="131.7" width="1.3" height="19.3" fill="url(#cb)"/>
<path d="M149.9 131.7 h2.21 M149.9 133.63 h2.21 M149.9 135.56 h2.21 M149.9 137.49 h2.21 M149.9 139.42 h2.21 M149.9 141.35 h2.21 M149.9 143.28 h2.21 M149.9 145.21 h2.21 M149.9 147.14 h2.21 M149.9 149.07 h2.21 M149.9 151 h2.21" stroke="#9a9a9a" stroke-width="0.55"/>
<path d="M148 129.1 h1.69 M148 130.1 h2.47" stroke="#c0c0c0" stroke-width="0.5"/>
<path d="M148 152.4 h1.69" stroke="#c0c0c0" stroke-width="0.5"/>
<polygon points="167.5,143.3 197,123.7 208.8,142.5 181.5,163.7" fill="#2a50d8" stroke="#2a50d8" stroke-width="0" stroke-linejoin="round" />
<polygon points="169.93,143.77 196.48,126.14 206.49,142.09 181.89,161.19" fill="#22b8d8" stroke="#22b8d8" stroke-width="2.88" stroke-linejoin="round" />
<polygon points="171.86,144.15 196.06,128.07 204.66,141.77 182.2,159.21" fill="#3cd070" stroke="#3cd070" stroke-width="5.28" stroke-linejoin="round" />
<polygon points="173.8,144.52 195.64,130 202.82,141.44 182.51,157.22" fill="#e8e030" stroke="#e8e030" stroke-width="7.68" stroke-linejoin="round" />
<polygon points="175.39,144.83 195.3,131.6 201.31,141.18 182.77,155.58" fill="#f07828" stroke="#f07828" stroke-width="9.6" stroke-linejoin="round" />
<polygon points="176.98,145.14 194.96,133.2 199.8,140.91 183.02,153.93" fill="#e8302a" stroke="#e8302a" stroke-width="11.52" stroke-linejoin="round" />
<polygon points="173.5,143.5 188.3,125.5 195.2,127.4 197.6,132.4 177.2,147.9 174.1,146.6" fill="#8c0a0a"/>
<polygon points="173.5,143.5 188.3,125.5 180,140 177.2,147.9 174.1,146.6" fill="#a81212"/>
<polygon points="179.7,154.7 196.4,137.9 200.7,139.2 203.2,144.1 183.4,157.1 180.3,157.1" fill="#8c0a0a"/>
<polygon points="179.7,154.7 196.4,137.9 188,150 183.4,157.1 180.3,157.1" fill="#a81212"/>
<rect x="255" y="42.4" width="1.9" height="20.3" fill="url(#cb)"/>
<path d="M257.5 42.4 h3.23 M257.5 44.43 h3.23 M257.5 46.46 h3.23 M257.5 48.49 h3.23 M257.5 50.52 h3.23 M257.5 52.55 h3.23 M257.5 54.58 h3.23 M257.5 56.61 h3.23 M257.5 58.64 h3.23 M257.5 60.67 h3.23 M257.5 62.7 h3.23" stroke="#9a9a9a" stroke-width="0.55"/>
<path d="M255 39.8 h2.47 M255 40.8 h3.61" stroke="#c0c0c0" stroke-width="0.5"/>
<path d="M255 64.1 h2.47" stroke="#c0c0c0" stroke-width="0.5"/>
<polygon points="280.4,55.3 309.7,48.6 319.8,61.5 289.4,71.7" fill="#2a50d8" stroke="#2a50d8" stroke-width="0" stroke-linejoin="round" />
<polygon points="283.25,56.58 308.95,50.7 316.67,60.56 290.29,69.41" fill="#22b8d8" stroke="#22b8d8" stroke-width="3.12" stroke-linejoin="round" />
<polygon points="285.52,57.6 308.36,52.37 314.19,59.82 291,67.6" fill="#3cd070" stroke="#3cd070" stroke-width="5.72" stroke-linejoin="round" />
<polygon points="287.78,58.61 307.77,54.04 311.71,59.07 291.71,65.78" fill="#e8e030" stroke="#e8e030" stroke-width="8.32" stroke-linejoin="round" />
<polygon points="289.65,59.45 307.28,55.42 309.66,58.46 292.3,64.28" fill="#f07828" stroke="#f07828" stroke-width="10.4" stroke-linejoin="round" />
<polygon points="291.52,60.29 306.79,56.8 307.61,57.84 292.88,62.78" fill="#e8302a" stroke="#e8302a" stroke-width="12.48" stroke-linejoin="round" />
<linearGradient id="cg1" gradientUnits="userSpaceOnUse" x1="291.2" y1="0" x2="310.8" y2="0"><stop offset="0" stop-color="#8c0c0c"/><stop offset="0.35" stop-color="#b81616"/><stop offset="0.62" stop-color="#e43a34"/><stop offset="0.8" stop-color="#c81c1c"/><stop offset="1" stop-color="#9a1010"/></linearGradient>
<path d="M291.2 58.6 L304.8 43.5 L310.8 58.6 A9.8 7 0 0 1 291.2 58.6 Z" fill="url(#cg1)"/>
<rect x="393.1" y="33" width="1.8" height="18" fill="url(#cb)"/>
<path d="M395.5 33 h3.06 M395.5 34.8 h3.06 M395.5 36.6 h3.06 M395.5 38.4 h3.06 M395.5 40.2 h3.06 M395.5 42 h3.06 M395.5 43.8 h3.06 M395.5 45.6 h3.06 M395.5 47.4 h3.06 M395.5 49.2 h3.06 M395.5 51 h3.06" stroke="#9a9a9a" stroke-width="0.55"/>
<path d="M393.1 30.4 h2.34 M393.1 31.4 h3.42" stroke="#c0c0c0" stroke-width="0.5"/>
<path d="M393.1 52.4 h2.34" stroke="#c0c0c0" stroke-width="0.5"/>
<polygon points="416.5,48.2 441.3,39.7 449.8,48.7 423.3,59.4" fill="#2a50d8" stroke="#2a50d8" stroke-width="0" stroke-linejoin="round" />
<polygon points="418.86,49.06 440.85,41.52 447.07,48.1 423.95,57.44" fill="#22b8d8" stroke="#22b8d8" stroke-width="2.4" stroke-linejoin="round" />
<polygon points="420.55,49.67 440.53,42.82 445.12,47.68 424.42,56.04" fill="#3cd070" stroke="#3cd070" stroke-width="4.2" stroke-linejoin="round" />
<polygon points="422.24,50.28 440.21,44.12 443.17,47.25 424.88,54.64" fill="#e8e030" stroke="#e8e030" stroke-width="6" stroke-linejoin="round" />
<polygon points="423.7,50.81 439.93,45.24 441.48,46.88 425.29,53.42" fill="#f07828" stroke="#f07828" stroke-width="7.5" stroke-linejoin="round" />
<polygon points="425.16,51.34 439.65,46.37 439.79,46.51 425.69,52.21" fill="#e8302a" stroke="#e8302a" stroke-width="9" stroke-linejoin="round" />
<linearGradient id="cg2" gradientUnits="userSpaceOnUse" x1="422.5" y1="0" x2="431.1" y2="0"><stop offset="0" stop-color="#7a0808"/><stop offset="0.35" stop-color="#a80f0f"/><stop offset="0.62" stop-color="#d02626"/><stop offset="0.82" stop-color="#b41414"/><stop offset="1" stop-color="#860a0a"/></linearGradient>
<path d="M422.5 50 L426.7 32.2 L431.1 50 A4.3 2.4 0 0 1 422.5 50 Z" fill="url(#cg2)"/>
<linearGradient id="cg3" gradientUnits="userSpaceOnUse" x1="430.4" y1="0" x2="439.2" y2="0"><stop offset="0" stop-color="#7a0808"/><stop offset="0.35" stop-color="#a80f0f"/><stop offset="0.62" stop-color="#d02626"/><stop offset="0.82" stop-color="#b41414"/><stop offset="1" stop-color="#860a0a"/></linearGradient>
<path d="M430.4 47.8 L434.5 30.4 L439.2 47.8 A4.4 2.4 0 0 1 430.4 47.8 Z" fill="url(#cg3)"/>
<linearGradient id="cg4" gradientUnits="userSpaceOnUse" x1="435.9" y1="0" x2="444.5" y2="0"><stop offset="0" stop-color="#7a0808"/><stop offset="0.35" stop-color="#a80f0f"/><stop offset="0.62" stop-color="#d02626"/><stop offset="0.82" stop-color="#b41414"/><stop offset="1" stop-color="#860a0a"/></linearGradient>
<path d="M435.9 49.2 L439.6 34.1 L444.5 49.2 A4.3 2.4 0 0 1 435.9 49.2 Z" fill="url(#cg4)"/>
<linearGradient id="cg5" gradientUnits="userSpaceOnUse" x1="426.6" y1="0" x2="435.4" y2="0"><stop offset="0" stop-color="#7a0808"/><stop offset="0.35" stop-color="#a80f0f"/><stop offset="0.62" stop-color="#d02626"/><stop offset="0.82" stop-color="#b41414"/><stop offset="1" stop-color="#860a0a"/></linearGradient>
<path d="M426.6 53.3 L430.6 37.5 L435.4 53.3 A4.4 2.5 0 0 1 426.6 53.3 Z" fill="url(#cg5)"/>
<rect x="351.5" y="135" width="1.4" height="15.6" fill="url(#cb)"/>
<path d="M353.5 135 h2.38 M353.5 136.56 h2.38 M353.5 138.12 h2.38 M353.5 139.68 h2.38 M353.5 141.24 h2.38 M353.5 142.8 h2.38 M353.5 144.36 h2.38 M353.5 145.92 h2.38 M353.5 147.48 h2.38 M353.5 149.04 h2.38 M353.5 150.6 h2.38" stroke="#9a9a9a" stroke-width="0.55"/>
<path d="M351.5 132.4 h1.82 M351.5 133.4 h2.66" stroke="#c0c0c0" stroke-width="0.5"/>
<path d="M351.5 152 h1.82" stroke="#c0c0c0" stroke-width="0.5"/>
<polygon points="373.5,147.6 400,139 405.7,146.3 381.5,159.2" fill="#2a50d8" stroke="#2a50d8" stroke-width="0" stroke-linejoin="round" />
<polygon points="375.83,148.39 399.47,140.72 403.46,145.83 381.97,157.29" fill="#22b8d8" stroke="#22b8d8" stroke-width="2.24" stroke-linejoin="round" />
<polygon points="377.49,148.95 399.1,141.94 401.87,145.49 382.3,155.92" fill="#3cd070" stroke="#3cd070" stroke-width="3.92" stroke-linejoin="round" />
<polygon points="379.16,149.52 398.72,143.17 400.27,145.15 382.63,154.55" fill="#e8e030" stroke="#e8e030" stroke-width="5.6" stroke-linejoin="round" />
<polygon points="380.6,150.01 398.4,144.23 398.89,144.85 382.92,153.37" fill="#f07828" stroke="#f07828" stroke-width="7" stroke-linejoin="round" />
<polygon points="382.04,150.49 398.07,145.29 397.5,144.56 383.21,152.18" fill="#e8302a" stroke="#e8302a" stroke-width="8.4" stroke-linejoin="round" />
<linearGradient id="cg6" gradientUnits="userSpaceOnUse" x1="389.5" y1="0" x2="401.1" y2="0"><stop offset="0" stop-color="#7a0808"/><stop offset="0.35" stop-color="#a80f0f"/><stop offset="0.62" stop-color="#d02626"/><stop offset="0.82" stop-color="#b41414"/><stop offset="1" stop-color="#860a0a"/></linearGradient>
<path d="M389.5 145.6 L394.5 134 L401.1 145.6 A5.8 3.6 0 0 1 389.5 145.6 Z" fill="url(#cg6)"/>
<linearGradient id="cg7" gradientUnits="userSpaceOnUse" x1="378.9" y1="0" x2="388.9" y2="0"><stop offset="0" stop-color="#7a0808"/><stop offset="0.35" stop-color="#a80f0f"/><stop offset="0.62" stop-color="#d02626"/><stop offset="0.82" stop-color="#b41414"/><stop offset="1" stop-color="#860a0a"/></linearGradient>
<path d="M378.9 150 L383.7 139 L388.9 150 A5 3.2 0 0 1 378.9 150 Z" fill="url(#cg7)"/>
<rect x="560.1" y="49.6" width="3.1" height="29.4" fill="url(#cb)"/>
<path d="M563.8 49.6 h6 M563.8 52.54 h6 M563.8 55.48 h6 M563.8 58.42 h6 M563.8 61.36 h6 M563.8 64.3 h6 M563.8 67.24 h6 M563.8 70.18 h6 M563.8 73.12 h6 M563.8 76.06 h6 M563.8 79 h6" stroke="#555" stroke-width="0.75"/>
<path d="M560.1 47 h4.03 M560.1 48 h5.89" stroke="#c0c0c0" stroke-width="0.5"/>
<path d="M560.1 80.4 h4.03" stroke="#c0c0c0" stroke-width="0.5"/>
<polygon points="596.4,56.8 665.2,40.2 683.8,73.2 606.9,92.6" fill="#2a50d8" stroke="#2a50d8" stroke-width="0" stroke-linejoin="round" />
<polygon points="599.67,58.69 663.9,43.19 679.86,71.51 608.69,89.46" fill="#22b8d8" stroke="#22b8d8" stroke-width="5.04" stroke-linejoin="round" />
<polygon points="602.55,60.36 662.75,45.83 676.38,70.02 610.27,86.7" fill="#3cd070" stroke="#3cd070" stroke-width="9.52" stroke-linejoin="round" />
<polygon points="605.08,61.82 661.74,48.15 673.33,68.71 611.66,84.27" fill="#e8e030" stroke="#e8e030" stroke-width="13.44" stroke-linejoin="round" />
<polygon points="607.26,63.08 660.87,50.14 670.7,67.58 612.86,82.17" fill="#f07828" stroke="#f07828" stroke-width="16.8" stroke-linejoin="round" />
<polygon points="609.09,64.14 660.15,51.82 668.5,66.64 613.86,80.42" fill="#ec3229" stroke="#ec3229" stroke-width="19.6" stroke-linejoin="round" />
<g transform="matrix(0.6880 -0.1660 0.1750 0.5967 596.4 56.8)"><rect x="15.5" y="3.5" width="37.1" height="18.7" rx="5" ry="7" fill="none" stroke="#8a1010" stroke-width="0.4" vector-effect="non-scaling-stroke"/><rect x="54.7" y="4.5" width="35.9" height="18.4" rx="5" ry="7" fill="none" stroke="#8a1010" stroke-width="0.4" vector-effect="non-scaling-stroke"/><rect x="16.6" y="33.5" width="39.6" height="22.4" rx="5" ry="7" fill="none" stroke="#8a1010" stroke-width="0.4" vector-effect="non-scaling-stroke"/><rect x="58.3" y="33.8" width="38.6" height="22.0" rx="5" ry="7" fill="none" stroke="#8a1010" stroke-width="0.4" vector-effect="non-scaling-stroke"/></g>
<path d="M621.8 32.6 L621.8 58.8" stroke="#8a5050" stroke-width="0.8" stroke-linecap="round"/>
<path d="M651.2 32.6 L648.3 52" stroke="#9a4040" stroke-width="0.8" stroke-linecap="round"/>
<path d="M630.6 52.9 L629.2 76.6" stroke="#6a1010" stroke-width="0.8" stroke-linecap="round"/>
<path d="M661.8 46.1 L657.3 69.8" stroke="#6a1010" stroke-width="0.8" stroke-linecap="round"/>
<rect x="35.2" y="271.2" width="2" height="23.5" fill="url(#cb)"/>
<path d="M37.8 271.2 h3.4 M37.8 273.55 h3.4 M37.8 275.9 h3.4 M37.8 278.25 h3.4 M37.8 280.6 h3.4 M37.8 282.95 h3.4 M37.8 285.3 h3.4 M37.8 287.65 h3.4 M37.8 290 h3.4 M37.8 292.35 h3.4 M37.8 294.7 h3.4" stroke="#9a9a9a" stroke-width="0.55"/>
<path d="M35.2 268.6 h2.6 M35.2 269.6 h3.8" stroke="#c0c0c0" stroke-width="0.5"/>
<path d="M35.2 296.1 h2.6" stroke="#c0c0c0" stroke-width="0.5"/>
<polygon points="67.8,279.2 104.4,273 110.4,294.7 71.6,301.6" fill="#2a50d8" stroke="#2a50d8" stroke-width="0" stroke-linejoin="round" />
<polygon points="69.61,282.82 71.15,279.82 102,274.6 104.24,276.82 108.44,292.01 107.33,294.05 74.69,299.86 72.25,298.42" fill="#22b8d8" stroke="#22b8d8" stroke-width="2" stroke-linejoin="round" />
<polygon points="70.15,284.97 72.86,279.71 100.7,275 104.63,278.91 107.81,290.4 105.77,294.15 76.51,299.36 72.15,296.8" fill="#3cd070" stroke="#3cd070" stroke-width="2" stroke-linejoin="round" />
<polygon points="70.49,286.98 74.37,279.46 99.53,275.19 105.15,280.79 107.4,288.92 104.43,294.39 78.18,299.06 71.91,295.37" fill="#e8e030" stroke="#e8e030" stroke-width="2" stroke-linejoin="round" />
<polygon points="70.85,289.11 75.96,279.19 98.29,275.41 105.71,282.79 106.97,287.36 103.01,294.64 79.95,298.74 71.66,293.86" fill="#f07828" stroke="#f07828" stroke-width="2" stroke-linejoin="round" />
<polygon points="71.25,291.48 77.74,278.89 96.9,275.64 106.32,285 106.49,285.63 101.44,294.92 81.92,298.39 71.37,292.19" fill="#e8302a" stroke="#e8302a" stroke-width="2" stroke-linejoin="round" />
<ellipse cx="80" cy="282" rx="6.5" ry="5.2" fill="none" stroke="#a01616" stroke-width="0.35"/>
<ellipse cx="92" cy="280" rx="6.5" ry="5.2" fill="none" stroke="#a01616" stroke-width="0.35"/>
<ellipse cx="81" cy="292" rx="6.5" ry="5.2" fill="none" stroke="#a01616" stroke-width="0.35"/>
<ellipse cx="95" cy="290" rx="6.5" ry="5.2" fill="none" stroke="#a01616" stroke-width="0.35"/>
<path d="M81.5 270.9 L82.7 281.1" stroke="#6a4040" stroke-width="0.65" stroke-linecap="round"/>
<path d="M94.5 268.9 L93.5 279.9" stroke="#6a4040" stroke-width="0.65" stroke-linecap="round"/>
<path d="M84.6 284.2 L84 293.5" stroke="#6a1010" stroke-width="0.6" stroke-linecap="round"/>
<path d="M97.6 283 L96.4 289.8" stroke="#6a1010" stroke-width="0.6" stroke-linecap="round"/>
<rect x="260.9" y="268.5" width="2.2" height="23" fill="url(#cb)"/>
<path d="M263.7 268.5 h3.74 M263.7 270.8 h3.74 M263.7 273.1 h3.74 M263.7 275.4 h3.74 M263.7 277.7 h3.74 M263.7 280 h3.74 M263.7 282.3 h3.74 M263.7 284.6 h3.74 M263.7 286.9 h3.74 M263.7 289.2 h3.74 M263.7 291.5 h3.74" stroke="#9a9a9a" stroke-width="0.55"/>
<path d="M260.9 265.9 h2.86 M260.9 266.9 h4.18" stroke="#c0c0c0" stroke-width="0.5"/>
<path d="M260.9 292.9 h2.86" stroke="#c0c0c0" stroke-width="0.5"/>
<polygon points="293.4,283.7 329.9,276 340.7,291.3 300.3,301.4" fill="#2448e0" stroke="#2448e0" stroke-width="0" stroke-linejoin="round" />
<polygon points="298.98,286.71 328.11,280.57 333.9,288.77 302.81,296.55" fill="#2e80e8" stroke="#2e80e8" stroke-width="5" stroke-linejoin="round" />
<polygon points="302.24,288.48 327.06,283.24 329.92,287.3 304.28,293.71" fill="#30b0e0" stroke="#30b0e0" stroke-width="7" stroke-linejoin="round" />
<ellipse cx="316.2" cy="288.6" rx="12.4" ry="8.4" transform="rotate(-12 316.2 288.6)" fill="#34d884" stroke="#1a7a40" stroke-width="0.25"/>
<path d="M319 270.2 L316.5 287" stroke="#8a2020" stroke-width="0.6" stroke-linecap="round"/>
<rect x="383.5" y="331.6" width="2.3" height="24.1" fill="url(#cb)"/>
<path d="M386.4 331.6 h3.91 M386.4 334.01 h3.91 M386.4 336.42 h3.91 M386.4 338.83 h3.91 M386.4 341.24 h3.91 M386.4 343.65 h3.91 M386.4 346.06 h3.91 M386.4 348.47 h3.91 M386.4 350.88 h3.91 M386.4 353.29 h3.91 M386.4 355.7 h3.91" stroke="#9a9a9a" stroke-width="0.55"/>
<path d="M383.5 329 h2.99 M383.5 330 h4.37" stroke="#c0c0c0" stroke-width="0.5"/>
<path d="M383.5 357.1 h2.99" stroke="#c0c0c0" stroke-width="0.5"/>
<polygon points="418.4,340 458.8,340 461.1,360.1 420.3,362" fill="#2448e0" stroke="#2448e0" stroke-width="0" stroke-linejoin="round" />
<polygon points="420.69,342.1 456.93,342.1 458.76,358.11 422.22,359.81" fill="#2a8ae0" stroke="#2a8ae0" stroke-width="3" stroke-linejoin="round" />
<polygon points="422.22,343.5 455.68,343.5 457.2,356.78 423.5,358.35" fill="#22c0d0" stroke="#22c0d0" stroke-width="5" stroke-linejoin="round" />
<polygon points="424.07,345.2 454.16,345.2 455.3,355.16 425.05,356.57" fill="#48d060" stroke="#48d060" stroke-width="7" stroke-linejoin="round" />
<ellipse cx="432.4" cy="350.0" rx="9.6" ry="8.2" fill="#88d436" stroke="#5a9a20" stroke-width="0.3"/>
<ellipse cx="450.6" cy="349.2" rx="9.8" ry="8.4" fill="#b8e030" stroke="#7a9a20" stroke-width="0.3"/>
<circle cx="453.8" cy="358.1" r="1.2" fill="#e02818"/>
<circle cx="459.8" cy="348.3" r="0.9" fill="#e02818"/>
<circle cx="453.5" cy="340.6" r="0.9" fill="#f0a020"/>
<path d="M435.4 334.5 L432.2 348.9" stroke="#8a2020" stroke-width="0.55" stroke-linecap="round"/>
<path d="M454.9 334.5 L450.6 348.9" stroke="#8a2020" stroke-width="0.55" stroke-linecap="round"/>
<ellipse cx="652.4" cy="0.2" rx="2.2" ry="1.2" fill="#555"/>
<path d="M210.4 85 v-2.2" stroke="#6a7090" stroke-width="0.8"/>
<path d="M210.8 84.2 h1.4" stroke="#d8a0a0" stroke-width="0.5"/>
<path d="M210.7 83 l0.8 -0.8" stroke="#a0d0d0" stroke-width="0.5"/>
<path d="M344.2 71.8 v-2.2" stroke="#6a7090" stroke-width="0.8"/>
<path d="M344.6 71 h1.4" stroke="#d8a0a0" stroke-width="0.5"/>
<path d="M344.5 69.8 l0.8 -0.8" stroke="#a0d0d0" stroke-width="0.5"/>
<path d="M422.9 157.9 v-2.2" stroke="#6a7090" stroke-width="0.8"/>
<path d="M423.3 157.1 h1.4" stroke="#d8a0a0" stroke-width="0.5"/>
<path d="M423.2 155.9 l0.8 -0.8" stroke="#a0d0d0" stroke-width="0.5"/>
<path d="M136.8 305.2 v-2.2" stroke="#6a7090" stroke-width="0.8"/>
<path d="M137.2 304.4 h1.4" stroke="#d8a0a0" stroke-width="0.5"/>
<path d="M137.1 303.2 l0.8 -0.8" stroke="#a0d0d0" stroke-width="0.5"/>
<path d="M367.6 301.8 v-2.2" stroke="#6a7090" stroke-width="0.8"/>
<path d="M368 301 h1.4" stroke="#d8a0a0" stroke-width="0.5"/>
<path d="M367.9 299.8 l0.8 -0.8" stroke="#a0d0d0" stroke-width="0.5"/>
</svg></body></html>
